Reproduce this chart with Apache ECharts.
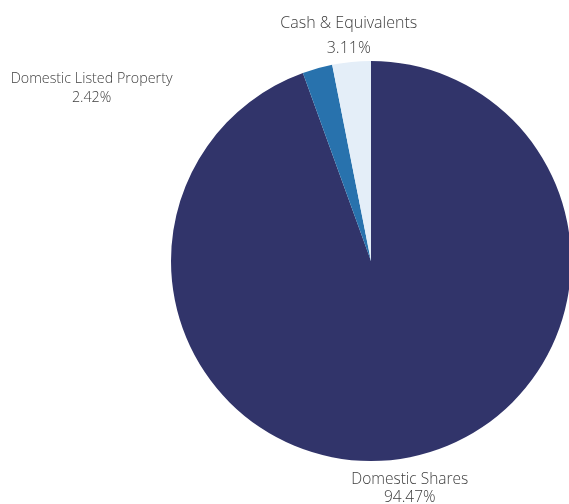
<!DOCTYPE html>
<html>
<head>
<meta charset="utf-8">
<script src="https://cdn.jsdelivr.net/npm/echarts@6/dist/echarts.min.js"></script>
<style>
html,body{margin:0;padding:0;background:#fff;}
#chart{width:569px;height:504px;}
</style>
</head>
<body>
<div id="chart"></div>
<script>
var categories = ['Domestic Shares', 'Domestic Listed Property', 'Cash & Equivalents'];
var values = [94.47, 2.42, 3.11];
var colors = ['#31346a', '#2872ad', '#e4eef8'];

var chart = echarts.init(document.getElementById('chart'), null, {renderer: 'canvas'});
var fontSizes = [15.5, 14.3, 16];
var lineHeights = [18, 18.5, 25];
var lineLengths = [30, 29, 28];
var labelShift = [{dx: -6, dy: 1.5}, {dx: -213, dy: 48}, {dx: 5, dy: 1.5}];

chart.setOption({
  animation: false,
  series: [{
    type: 'pie',
    center: [371, 261],
    radius: 200,
    startAngle: 90,
    clockwise: true,
    avoidLabelOverlap: false,
    data: categories.map(function (c, i) {
      return {
        name: c,
        value: values[i],
        itemStyle: {color: colors[i]},
        label: {lineHeight: lineHeights[i], fontSize: fontSizes[i]},
        labelLine: {length: lineLengths[i]}
      };
    }),
    label: {
      show: true,
      position: 'outside',
      alignTo: 'none',
      fontFamily: 'Open Sans',
      fontWeight: 300,
      color: '#404040',
      formatter: function (p) { return p.name + '\n' + p.value.toFixed(2) + '%'; }
    },
    labelLine: {show: false, length2: 0},
    labelLayout: function (p) {
      var s = labelShift[p.dataIndex];
      return {align: 'center', dx: s.dx, dy: s.dy};
    },
    emphasis: {disabled: true}
  }]
});
</script>
</body>
</html>
